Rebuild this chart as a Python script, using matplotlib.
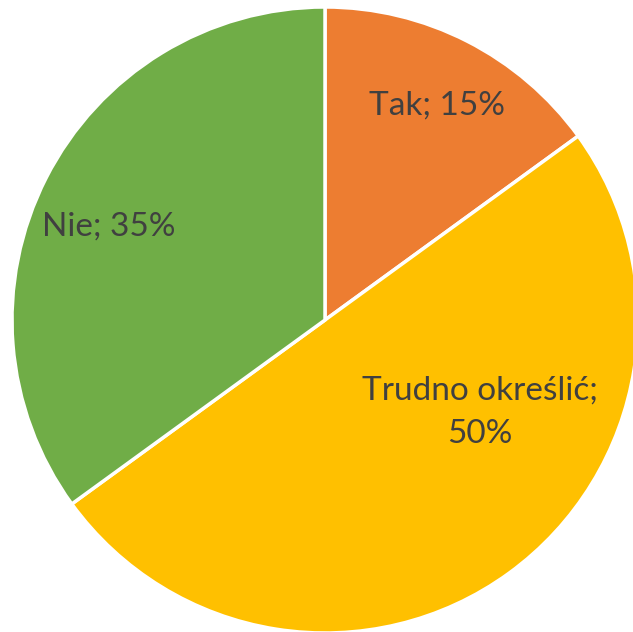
import matplotlib
matplotlib.use("Agg")
import matplotlib.pyplot as plt

# Data
labels = ["Tak", "Trudno określić", "Nie"]
values = [15, 50, 35]
colors = ["#ED7D31", "#FFC000", "#70AD47"]

# label text and position (in pie-radius units), placed like in the original
label_texts = ["Tak; 15%", "Trudno określić;\n50%", "Nie; 35%"]
label_pos = [(0.358, 0.685), (0.495, -0.295), (-0.69, 0.30)]

plt.rcParams['font.family'] = ['Lato', 'DejaVu Sans']

W, H = 633, 632
cx, cy, R = 325, 320, 313

fig = plt.figure(figsize=(W / 100, H / 100), dpi=100)
ax = fig.add_axes([0, 0, 1, 1])

ax.pie(values, colors=colors, startangle=90, counterclock=False, radius=1,
       wedgeprops=dict(edgecolor="white", linewidth=2.5))

for txt, (x, y) in zip(label_texts, label_pos):
    ax.text(x, y, txt, ha="center", va="center", fontsize=24, color="#404040",
            linespacing=1.55)

ax.set_xlim(-cx / R, (W - cx) / R)
ax.set_ylim(-(H - cy) / R, cy / R)
ax.set_aspect("auto")
ax.axis("off")

fig.savefig("out.png", dpi=100)
